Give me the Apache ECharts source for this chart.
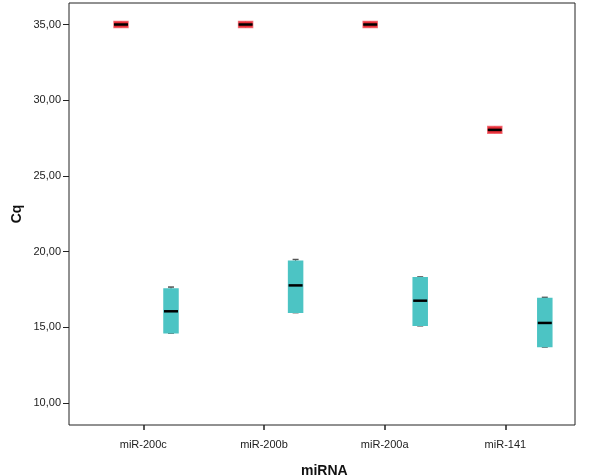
<!DOCTYPE html>
<html>
<head>
<meta charset="utf-8">
<script src="https://cdn.jsdelivr.net/npm/echarts@6/dist/echarts.min.js"></script>
<style>html,body{margin:0;padding:0;background:#fff}#c{width:600px;height:476px}</style>
</head>
<body>
<div id="c"></div>
<script>
// ---- data ----
const categories = ['miR-200c', 'miR-200b', 'miR-200a', 'miR-141'];
// [min, q1, median, q3, max]
const redBoxes = [
  [35.0, 34.8, 35.0, 35.2, 35.0],
  [35.0, 34.8, 35.0, 35.2, 35.0],
  [35.0, 34.8, 35.0, 35.2, 35.0],
  [28.04, 27.82, 28.04, 28.26, 28.04]
];
const cyanBoxes = [
  [14.62, 14.65, 16.06, 17.53, 17.66],
  [15.97, 16.0, 17.77, 19.36, 19.48],
  [15.1, 15.13, 16.76, 18.28, 18.33],
  [13.7, 13.73, 15.29, 16.9, 16.98]
];
const yTicks = [10, 15, 20, 25, 30, 35];

const yMin = 8.55, yMax = 36.42;
const font = "'Liberation Sans', Arial, sans-serif";

function toItems(arr) { return arr.map((b, i) => [i].concat(b)); }

function makeRender(offset, fill, stroke, capColor) {
  return function (params, api) {
    const x = api.value(0);
    const yOf = v => api.coord([x, v])[1];
    const cx = api.coord([x, api.value(3)])[0] + offset;
    const hw = 7;
    const yMinP = yOf(api.value(1)), yQ1 = yOf(api.value(2)), yMed = yOf(api.value(3)),
          yQ3 = yOf(api.value(4)), yMaxP = yOf(api.value(5));
    const children = [
      { type: 'line', shape: { x1: cx, y1: yMaxP, x2: cx, y2: yQ3 }, style: { stroke: capColor, lineWidth: 1 } },
      { type: 'line', shape: { x1: cx, y1: yQ1, x2: cx, y2: yMinP }, style: { stroke: capColor, lineWidth: 1 } },
      { type: 'line', shape: { x1: cx - 3, y1: yMaxP, x2: cx + 3, y2: yMaxP }, style: { stroke: capColor, lineWidth: 1.5 } },
      { type: 'line', shape: { x1: cx - 3, y1: yMinP, x2: cx + 3, y2: yMinP }, style: { stroke: capColor, lineWidth: 1.5 } },
      { type: 'rect', shape: { x: cx - hw, y: yQ3, width: 2 * hw, height: yQ1 - yQ3 }, style: { fill: fill, stroke: stroke, lineWidth: 1.5 } },
      { type: 'line', shape: { x1: cx - hw, y1: yMed, x2: cx + hw, y2: yMed }, style: { stroke: '#000', lineWidth: 2.5 } }
    ];
    return { type: 'group', children: children };
  };
}

const chart = echarts.init(document.getElementById('c'), null, { renderer: 'canvas' });
chart.setOption({
  animation: false,
  backgroundColor: '#fff',
  textStyle: { fontFamily: font },
  grid: [
    { left: 69, right: 25, top: 3, bottom: 51, outerBoundsMode: 'none', containLabel: false, show: true, borderColor: '#222', borderWidth: 1, backgroundColor: 'transparent' },
    { left: 82.95, right: 34.25, top: 3, bottom: 51, outerBoundsMode: 'none', containLabel: false },
    { left: 83.7, right: 17.9, top: 3, bottom: 51, outerBoundsMode: 'none', containLabel: false }
  ],
  xAxis: [
    { gridIndex: 0, type: 'value', min: 0, max: 1, show: false },
    {
      gridIndex: 1, type: 'category', data: categories, position: 'bottom',
      axisLine: { show: true, onZero: false, lineStyle: { color: 'rgba(0,0,0,0)' } },
      axisTick: { show: true, inside: false, alignWithLabel: true, length: 5, lineStyle: { color: '#222', width: 1.5 } },
      axisLabel: { color: '#222', fontSize: 11, fontFamily: font, margin: 14 },
      name: 'miRNA', nameLocation: 'middle', nameGap: 39, nameMoveOverlap: false,
      nameTextStyle: { fontSize: 14, fontWeight: 'bold', color: '#111', fontFamily: font },
      splitLine: { show: false }
    },
    { gridIndex: 2, type: 'category', data: categories, show: false }
  ],
  yAxis: [
    {
      gridIndex: 0, type: 'value', min: yMin, max: yMax,
      axisLine: { show: false },
      axisTick: { show: true, length: 6, customValues: yTicks, lineStyle: { color: '#222', width: 1 } },
      axisLabel: { customValues: yTicks, color: '#222', fontSize: 11, fontFamily: font, margin: 8,
        formatter: v => v.toFixed(2).replace('.', ',') },
      splitLine: { show: false },
      name: 'Cq', nameLocation: 'middle', nameGap: 45, nameMoveOverlap: false,
      nameTextStyle: { fontSize: 14, fontWeight: 'bold', color: '#111', fontFamily: font }
    },
    { gridIndex: 1, type: 'value', min: yMin, max: yMax, show: false },
    { gridIndex: 2, type: 'value', min: yMin, max: yMax, show: false }
  ],
  series: [
    {
      type: 'custom', xAxisIndex: 2, yAxisIndex: 2,
      renderItem: makeRender(-25, '#e52a33', 'rgba(238,70,80,0.75)', '#e52a33'),
      encode: { x: 0, y: [1, 2, 3, 4, 5] },
      data: toItems(redBoxes)
    },
    {
      type: 'custom', xAxisIndex: 2, yAxisIndex: 2,
      renderItem: makeRender(25, '#4cc4c4', '#4cc4c4', '#555'),
      encode: { x: 0, y: [1, 2, 3, 4, 5] },
      data: toItems(cyanBoxes)
    }
  ]
});
</script>
</body>
</html>
